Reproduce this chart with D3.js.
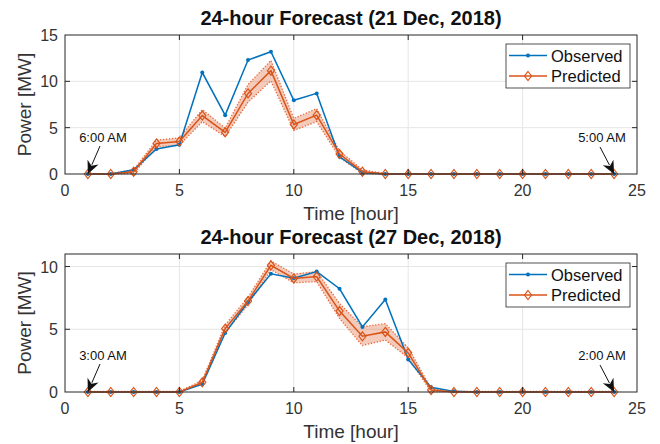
<!DOCTYPE html>
<html>
<head>
<meta charset="utf-8">
<script src="https://cdn.jsdelivr.net/npm/d3@7"></script>
<style>
  body { margin: 0; background: #fff; }
  svg { font-family: "Liberation Sans", Arial, Helvetica, sans-serif; }
</style>
</head>
<body>
<div class="chart"></div>
<script>
// hours along the x axis
var hours = [1,2,3,4,5,6,7,8,9,10,11,12,13,14,15,16,17,18,19,20,21,22,23,24];

// 21 Dec 2018
var obs21  = [0,0,0.45,2.7,3.15,10.95,6.35,12.3,13.2,7.95,8.7,1.85,0.15,0,0,0,0,0,0,0,0,0,0,0];
var pred21 = [0,0,0.25,3.3,3.5,6.3,4.5,8.7,11.15,5.35,6.35,2.15,0.25,0,0,0,0,0,0,0,0,0,0,0];
var lo21   = [0,0,0.05,2.95,3.1,5.65,4.05,7.75,10.05,4.7,5.65,1.8,0.05,0,0,0,0,0,0,0,0,0,0,0];
var hi21   = [0.05,0.05,0.45,3.65,3.9,6.95,4.95,9.65,12.25,6.0,7.05,2.5,0.45,0.05,0.05,0.05,0.05,0.05,0.05,0.05,0.05,0.05,0.05,0.05];

// 27 Dec 2018
var obs27  = [0,0,0,0,0,0.63,4.7,7.17,9.42,9.07,9.6,8.23,5.19,7.38,2.6,0.37,0.05,0,0,0,0,0,0,0];
var pred27 = [0,0,0,0,0,0.77,5.05,7.25,10.1,9.05,9.2,6.45,4.44,4.79,3.12,0.16,0,0,0,0,0,0,0,0];
var lo27   = [0,0,0,0,0,0.62,4.75,6.95,9.75,8.7,8.8,5.85,3.7,4.15,2.72,0.02,0,0,0,0,0,0,0,0];
var hi27   = [0.05,0.05,0.05,0.05,0.05,0.92,5.35,7.55,10.45,9.4,9.6,7.05,5.2,5.45,3.52,0.3,0.05,0.05,0.05,0.05,0.05,0.05,0.05,0.05];

var xTicks = [0,5,10,15,20,25];
var yTicks21 = [0,5,10,15];
var yTicks27 = [0,5,10];
var legendNames = ['Observed', 'Predicted'];

var width = 660, height = 444;
var blue = '#0072BD', red = '#D95319', ink = '#333';

var svg = d3.select('.chart').append('svg')
  .attr('width', width)
  .attr('height', height);

var x = d3.scaleLinear().domain([0, 25]).range([65, 637]);

function panel(top, bottom, ymax, yTicks, obs, pred, lo, hi, title, startLabel, endLabel) {
  var y = d3.scaleLinear().domain([0, ymax]).range([bottom, top]);
  var g = svg.append('g');

  // grid
  g.selectAll('.gx').data(xTicks.slice(1, -1)).enter().append('line')
    .attr('x1', function(d){ return x(d) }).attr('x2', function(d){ return x(d) })
    .attr('y1', top).attr('y2', bottom)
    .attr('stroke', '#e6e6e6');
  g.selectAll('.gy').data(yTicks.filter(function(d){ return d > 0 && d < ymax })).enter().append('line')
    .attr('x1', x(0)).attr('x2', x(25))
    .attr('y1', function(d){ return y(d) }).attr('y2', function(d){ return y(d) })
    .attr('stroke', '#e6e6e6');

  // confidence band
  var rows = hours.map(function(h, i){ return {h: h, o: obs[i], p: pred[i], lo: lo[i], hi: hi[i]} });
  g.append('path').datum(rows)
    .attr('d', d3.area().x(function(d){ return x(d.h) }).y0(function(d){ return y(d.lo) }).y1(function(d){ return y(d.hi) }))
    .attr('fill', red).attr('fill-opacity', 0.3);
  ['lo', 'hi'].forEach(function(k){
    g.append('path').datum(rows)
      .attr('d', d3.line().x(function(d){ return x(d.h) }).y(function(d){ return y(d[k]) }))
      .attr('fill', 'none').attr('stroke', '#E8673A').attr('stroke-width', 1.3)
      .attr('stroke-dasharray', '1.3,1.7');
  });

  // observed
  g.append('path').datum(rows)
    .attr('d', d3.line().x(function(d){ return x(d.h) }).y(function(d){ return y(d.o) }))
    .attr('fill', 'none').attr('stroke', blue).attr('stroke-width', 1.5);
  g.selectAll('.od').data(rows).enter().append('circle')
    .attr('cx', function(d){ return x(d.h) }).attr('cy', function(d){ return y(d.o) })
    .attr('r', 2).attr('fill', blue);

  // predicted
  g.append('path').datum(rows)
    .attr('d', d3.line().x(function(d){ return x(d.h) }).y(function(d){ return y(d.p) }))
    .attr('fill', 'none').attr('stroke', red).attr('stroke-width', 1.5);
  g.selectAll('.pd').data(rows).enter().append('path')
    .attr('d', function(d){ return diamond(x(d.h), y(d.p)) })
    .attr('fill', 'none').attr('stroke', red).attr('stroke-width', 1.2);

  // box and ticks
  g.append('rect').attr('x', x(0)).attr('y', top)
    .attr('width', x(25) - x(0)).attr('height', bottom - top)
    .attr('fill', 'none').attr('stroke', '#262626').attr('stroke-width', 1);
  g.selectAll('.tx').data(xTicks.slice(1, -1)).enter().append('path')
    .attr('d', function(d){ return 'M' + x(d) + ',' + bottom + 'v-5M' + x(d) + ',' + top + 'v5' })
    .attr('stroke', '#262626');
  g.selectAll('.ty').data(yTicks.filter(function(d){ return d > 0 && d < ymax })).enter().append('path')
    .attr('d', function(d){ return 'M' + x(0) + ',' + y(d) + 'h5M' + x(25) + ',' + y(d) + 'h-5' })
    .attr('stroke', '#262626');

  // tick labels
  g.selectAll('.lx').data(xTicks).enter().append('text')
    .attr('x', function(d){ return x(d) }).attr('y', bottom + 22)
    .attr('text-anchor', 'middle').attr('font-size', 16).attr('fill', ink)
    .text(function(d){ return d });
  g.selectAll('.ly').data(yTicks).enter().append('text')
    .attr('x', x(0) - 7).attr('y', function(d){ return y(d) + 6 })
    .attr('text-anchor', 'end').attr('font-size', 16).attr('fill', ink)
    .text(function(d){ return d });

  // axis labels and title
  g.append('text').attr('x', (x(0) + x(25)) / 2).attr('y', bottom + 46)
    .attr('text-anchor', 'middle').attr('font-size', 19).attr('fill', ink)
    .text('Time [hour]');
  g.append('text')
    .attr('transform', 'translate(31,' + (top + bottom) / 2 + ') rotate(-90)')
    .attr('text-anchor', 'middle').attr('font-size', 19).attr('fill', ink)
    .text('Power [MW]');
  g.append('text').attr('x', (x(0) + x(25)) / 2).attr('y', top - 10)
    .attr('text-anchor', 'middle').attr('font-size', 20).attr('font-weight', 'bold').attr('fill', '#111')
    .text(title);

  // start / end annotations
  annotate(g, startLabel, 103, bottom - 32, 100, bottom - 28, x(hours[0]), y(pred[0]));
  annotate(g, endLabel, 602, bottom - 32, 600, bottom - 27, x(hours[23]), y(pred[23]));

  // legend
  var lx = 506, ly = top + 9;
  g.append('rect').attr('x', lx).attr('y', ly).attr('width', 124).attr('height', 44)
    .attr('fill', '#fff').attr('stroke', '#262626').attr('stroke-width', 0.8);
  legendNames.forEach(function(name, i){
    var yy = ly + 11.5 + i * 20.5;
    var c = i === 0 ? blue : red;
    g.append('line').attr('x1', lx + 3).attr('x2', lx + 41).attr('y1', yy).attr('y2', yy)
      .attr('stroke', c).attr('stroke-width', 1.5);
    if (i === 0) {
      g.append('circle').attr('cx', lx + 22).attr('cy', yy).attr('r', 2).attr('fill', c);
    } else {
      g.append('path').attr('d', diamond(lx + 22, yy)).attr('fill', 'none').attr('stroke', c).attr('stroke-width', 1.2);
    }
    g.append('text').attr('x', lx + 45).attr('y', yy + 6)
      .attr('font-size', 16.5).attr('fill', '#111').text(name);
  });
}

function diamond(cx, cy) {
  return 'M' + cx + ',' + (cy - 4.5) + 'L' + (cx + 3.5) + ',' + cy + 'L' + cx + ',' + (cy + 4.5) + 'L' + (cx - 3.5) + ',' + cy + 'Z';
}

function annotate(g, label, tx, ty, ax, ay, px, py) {
  g.append('text').attr('x', tx).attr('y', ty)
    .attr('text-anchor', 'middle').attr('font-size', 13).attr('fill', '#111')
    .text(label);
  var dx = px - ax, dy = py - ay, len = Math.sqrt(dx * dx + dy * dy);
  var ux = dx / len, uy = dy / len;
  var bx = px - ux * 13, by = py - uy * 13;
  g.append('line').attr('x1', ax).attr('y1', ay).attr('x2', bx + ux * 3).attr('y2', by + uy * 3)
    .attr('stroke', '#111').attr('stroke-width', 1);
  g.append('path')
    .attr('d', 'M' + px + ',' + py + 'L' + (bx - uy * 6) + ',' + (by + ux * 6) +
      'L' + (px - ux * 9) + ',' + (py - uy * 9) + 'L' + (bx + uy * 6) + ',' + (by - ux * 6) + 'Z')
    .attr('fill', '#111');
}

panel(35, 174, 15, yTicks21, obs21, pred21, lo21, hi21, '24-hour Forecast (21 Dec, 2018)', '6:00 AM', '5:00 AM');
panel(254, 392, 11, yTicks27, obs27, pred27, lo27, hi27, '24-hour Forecast (27 Dec, 2018)', '3:00 AM', '2:00 AM');
</script>
</body>
</html>
